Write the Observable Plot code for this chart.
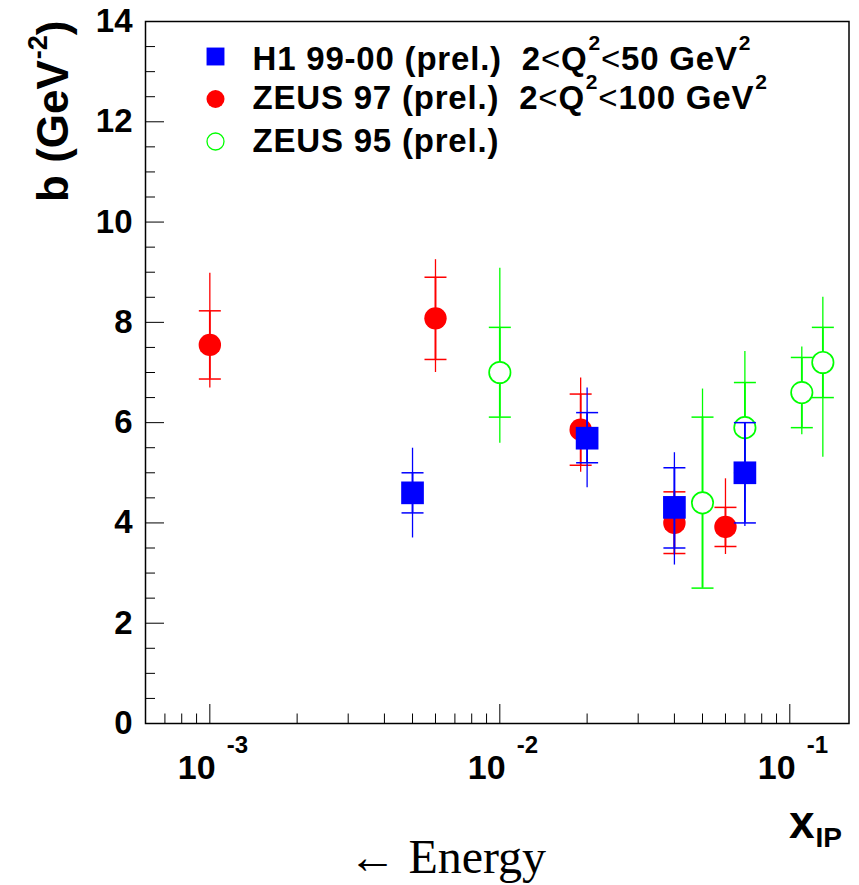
<!DOCTYPE html>
<html>
<head>
<meta charset="utf-8">
<script src="https://cdn.jsdelivr.net/npm/d3@7"></script>
<script src="https://cdn.jsdelivr.net/npm/@observablehq/plot@0.6"></script>
<style>
  html, body { margin: 0; padding: 0; background: #fff; }
  svg { display: block; }
</style>
</head>
<body>
<div id="chart"></div>
<script>
// ---------------- data ----------------
// H1 99-00 (prel.)
const h1X      = [0.005, 0.02, 0.04, 0.07];
const h1B      = [4.60, 5.69, 4.31, 5.00];
const h1StatLo = [4.20, 5.20, 3.50, 4.00];
const h1StatHi = [5.00, 6.20, 5.10, 6.00];
const h1TotLo  = [3.70, 4.70, 3.16, 3.93];
const h1TotHi  = [5.49, 6.69, 5.40, 6.00];

// ZEUS 97 (prel.)
const z97X      = [0.001, 0.006, 0.019, 0.04, 0.06];
const z97B      = [7.55, 8.08, 5.86, 4.00, 3.92];
const z97StatLo = [6.87, 7.26, 5.15, 3.39, 3.53];
const z97StatHi = [8.23, 8.90, 6.57, 4.62, 4.31];
const z97TotLo  = [6.69, 7.00, 5.01, 3.35, 3.37];
const z97TotHi  = [8.98, 9.25, 6.89, 4.65, 4.88];

// ZEUS 95 (prel.)
const z95X      = [0.01, 0.05, 0.07, 0.11, 0.13];
const z95B      = [7.00, 4.40, 5.90, 6.60, 7.20];
const z95StatLo = [6.11, 2.70, 5.00, 5.90, 6.50];
const z95StatHi = [7.90, 6.11, 6.80, 7.30, 7.90];
const z95TotLo  = [5.59, 2.70, 4.40, 5.76, 5.31];
const z95TotHi  = [9.08, 6.67, 7.42, 7.51, 8.50];

// axes / ticks / labels
const xDomain = [6e-4, 0.16];
const yDomain = [0, 14];
const xMajor = [1e-3, 1e-2, 1e-1];
const xMajorLabels = ["10^{-3}", "10^{-2}", "10^{-1}"];
const xMinor = [7e-4, 8e-4, 9e-4,
                2e-3, 3e-3, 4e-3, 5e-3, 6e-3, 7e-3, 8e-3, 9e-3,
                2e-2, 3e-2, 4e-2, 5e-2, 6e-2, 7e-2, 8e-2, 9e-2];
const yMajor = [0, 2, 4, 6, 8, 10, 12, 14];
const yMinor = [0.5, 1, 1.5, 2.5, 3, 3.5, 4.5, 5, 5.5, 6.5, 7, 7.5,
                8.5, 9, 9.5, 10.5, 11, 11.5, 12.5, 13, 13.5];
const yTitle = "b (GeV^{-2})";
const xTitle = "x_{IP}";
const energyNote = "\u2190 Energy";
const legendLabels = [
  "H1 99-00 (prel.)  2<Q^{2}<50 GeV^{2}",
  "ZEUS 97 (prel.)  2<Q^{2}<100 GeV^{2}",
  "ZEUS 95 (prel.)"
];

// ---------------- layout ----------------
const W = 859, H = 885;
const mL = 145, mR = 10.5, mT = 21, mB = 162;
const frameW = W - mL - mR, frameH = H - mT - mB;
const RED = "#ff0000", BLUE = "#0000ff", GREEN = "#00ff00";

const hbar = { draw(ctx, size) { const w = Math.sqrt(size / Math.PI); ctx.moveTo(-w, 0); ctx.lineTo(w, 0); } };

function rows(xs, bs, sLo, sHi, tLo, tHi) {
  return xs.map((x, i) => ({x, b: bs[i], sLo: sLo[i], sHi: sHi[i], tLo: tLo[i], tHi: tHi[i]}));
}
function seriesMarks(data, color, marker) {
  return [
    Plot.ruleX(data, {x: "x", y1: "tLo", y2: "tHi", stroke: color, strokeWidth: 1.3}),
    Plot.ruleX(data, {x: "x", y1: "sLo", y2: "sHi", stroke: color, strokeWidth: 1.8}),
    Plot.dot(data, {x: "x", y: "sLo", symbol: hbar, r: 11, stroke: color, strokeWidth: 1.5}),
    Plot.dot(data, {x: "x", y: "sHi", symbol: hbar, r: 11, stroke: color, strokeWidth: 1.5}),
    Plot.dot(data, {x: "x", y: "b", ...marker})
  ];
}

const h1Rows  = rows(h1X, h1B, h1StatLo, h1StatHi, h1TotLo, h1TotHi);
const z97Rows = rows(z97X, z97B, z97StatLo, z97StatHi, z97TotLo, z97TotHi);
const z95Rows = rows(z95X, z95B, z95StatLo, z95StatHi, z95TotLo, z95TotHi);

const redMarker   = {symbol: "circle", r: 11.2, fill: RED};
const greenMarker = {symbol: "circle", r: 10.7, fill: "white", stroke: GREEN, strokeWidth: 1.7};
const blueMarker  = {symbol: "square", r: 12.8, fill: BLUE};

const legendMarkers = [
  {symbol: "square", r: 10.1, fill: BLUE},
  {symbol: "circle", r: 9, fill: RED},
  {symbol: "circle", r: 8.5, fill: "white", stroke: GREEN, strokeWidth: 1.3}
];
const legendMarkerDy = [35, 77.5, 120];
const legendTextDy = [48.5, 87, 130];

const legendMarks = legendLabels.flatMap((lab, i) => [
  Plot.dot([lab], {frameAnchor: "top-left", dx: 70, dy: legendMarkerDy[i], ...legendMarkers[i]}),
  Plot.text([lab], {text: d => d, frameAnchor: "top-left", dx: 107, dy: legendTextDy[i],
    textAnchor: "start", lineAnchor: "bottom", fontSize: 33, fontWeight: "bold"})
]);

const plot = Plot.plot({
  width: W, height: H,
  marginLeft: mL, marginRight: mR, marginTop: mT, marginBottom: mB,
  style: {fontFamily: "'Liberation Sans', Arial, Helvetica, sans-serif", background: "white", color: "black"},
  x: {type: "log", domain: xDomain, axis: null},
  y: {domain: yDomain},
  marks: [
    // ticks inside the frame
    Plot.tickY(yMajor, {y: d => d, insetRight: frameW - 19, stroke: "black", strokeWidth: 1}),
    Plot.tickY(yMinor, {y: d => d, insetRight: frameW - 10, stroke: "black", strokeWidth: 1}),
    Plot.tickX(xMajor, {x: d => d, insetTop: frameH - 19, stroke: "black", strokeWidth: 1}),
    Plot.tickX(xMinor, {x: d => d, insetTop: frameH - 9.5, stroke: "black", strokeWidth: 1}),
    // y tick labels
    Plot.axisY(yMajor, {tickSize: 0, tickPadding: 13, tickFormat: d => String(d),
      fontSize: 33, fontWeight: "bold", label: null}),
    // x tick labels
    Plot.text(xMajor, {x: d => d, text: (d, i) => xMajorLabels[i], frameAnchor: "bottom",
      textAnchor: "start", lineAnchor: "bottom", dx: -32, dy: 55, fontSize: 34, fontWeight: "bold"}),
    // axis titles
    Plot.text([yTitle], {text: d => d, frameAnchor: "top-left", rotate: -90, textAnchor: "end", lineAnchor: "bottom",
      dx: -78, dy: -1, fontSize: 44, fontWeight: "bold"}),
    Plot.text([xTitle], {text: d => d, frameAnchor: "bottom-right", textAnchor: "start", lineAnchor: "bottom",
      dx: -60, dy: 114, fontSize: 46, fontWeight: "bold"}),
    Plot.text([energyNote], {text: d => d, frameAnchor: "bottom", textAnchor: "middle", lineAnchor: "bottom",
      dx: -50, dy: 149, fontSize: 48, fontFamily: "'Liberation Serif', 'Times New Roman', serif"}),
    // data
    ...seriesMarks(z97Rows, RED, redMarker),
    ...seriesMarks(z95Rows, GREEN, greenMarker),
    ...seriesMarks(h1Rows, BLUE, blueMarker),
    // legend
    ...legendMarks,
    Plot.frame({stroke: "black", strokeWidth: 1.5})
  ]
});

document.getElementById("chart").appendChild(plot);

// ---------- rich text: superscripts / subscripts ----------
const NS = "http://www.w3.org/2000/svg";
function richify(t, o) {
  const src = t.textContent;
  t.style.whiteSpace = "pre";
  if (o.letterSpacing) t.style.letterSpacing = o.letterSpacing;
  while (t.firstChild) t.removeChild(t.firstChild);
  const re = /\^\{([^}]*)\}|_\{([^}]*)\}|</g;
  let last = 0, m, cur = 0, pendingGap = 0;
  const add = (str, attrs, shift) => {
    if (!str) return;
    const ts = document.createElementNS(NS, "tspan");
    ts.textContent = str;
    for (const k in attrs) ts.setAttribute(k, attrs[k]);
    const d = shift - cur;
    if (d !== 0) ts.setAttribute("dy", d);
    if (pendingGap) { ts.setAttribute("dx", pendingGap); pendingGap = 0; }
    cur = shift;
    t.appendChild(ts);
  };
  while ((m = re.exec(src))) {
    add(src.slice(last, m.index), {}, 0);
    if (m[1] !== undefined) {
      pendingGap = o.supGap || 0;
      add(m[1], {"font-size": o.supSize}, -o.supRaise);
    } else if (m[2] !== undefined) {
      pendingGap = o.subGap || 0;
      add(m[2], {"font-size": o.subSize}, o.subLower);
    } else {
      add("<", {"font-weight": "normal"}, 0);
    }
    last = re.lastIndex;
  }
  add(src.slice(last), {}, 0);
}
const richOpts = {
  xtick: {supSize: 24, supRaise: 26, supGap: 11},
  legend: {supSize: 21, supRaise: 20, supGap: 1, letterSpacing: "0.8px"},
  ytitle: {supSize: 27, supRaise: 21, supGap: 1},
  xtitle: {subSize: 28, subLower: 9, subGap: 1}
};
plot.querySelectorAll("text").forEach(t => {
  const s = t.textContent;
  let o = null;
  if (xMajorLabels.includes(s)) o = richOpts.xtick;
  else if (s === yTitle) o = richOpts.ytitle;
  else if (s === xTitle) o = richOpts.xtitle;
  else if (legendLabels.includes(s)) o = richOpts.legend;
  if (o) richify(t, o);
});
</script>
</body>
</html>
